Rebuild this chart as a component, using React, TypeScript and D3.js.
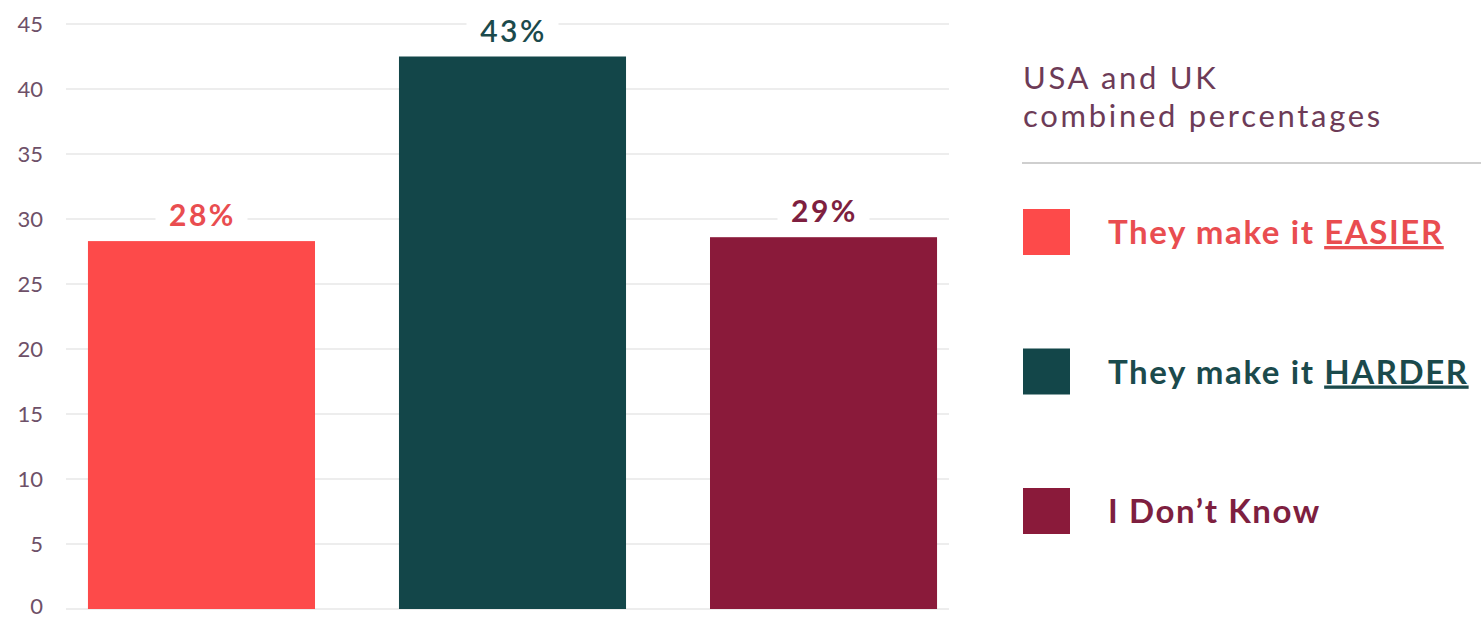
import React from "react";
import * as d3 from "d3";

const categories = ["They make it EASIER", "They make it HARDER", "I Don't Know"];
const values = [28.3, 42.5, 28.6];
const valueLabels = ["28%", "43%", "29%"];
const yTicks = [0, 5, 10, 15, 20, 25, 30, 35, 40, 45];
const barColors = ["#fd4a4a", "#134649", "#8a1a3a"];
const labelColors = ["#e94d50", "#1b4a4c", "#7e1f40"];
const legendPrefix = ["They make it ", "They make it ", "I Don\u2019t Know"];
const legendEmph = ["EASIER", "HARDER", ""];
const legendTitle = ["USA and UK", "combined percentages"];

const W = 1481;
const H = 618;

export default function App() {
  const y = d3.scaleLinear().domain([0, 45]).range([609, 24]);
  const x = d3
    .scaleBand<string>()
    .domain(categories)
    .range([66, 959])
    .paddingInner(0.27)
    .paddingOuter(0.0706);
  const font = "Lato, 'Open Sans', sans-serif";
  const legendY = d3.scalePoint<string>().domain(categories).range([232, 511]);

  return (
    <svg
      width={W}
      height={H}
      style={{ position: "absolute", left: 0, top: 0, background: "#fff" }}
      fontFamily={font}
    >
      {/* gridlines */}
      {yTicks.map((t) => (
        <line
          key={"g" + t}
          x1={66}
          x2={949}
          y1={y(t)}
          y2={y(t)}
          stroke="#dcdcdc"
          strokeWidth={1.2}
        />
      ))}
      {/* y labels */}
      {yTicks.map((t) => (
        <text
          key={"t" + t}
          x={43}
          y={y(t) + (t === 0 ? 5 : 8)}
          textAnchor="end"
          fontSize={22}
          fill="#6e5068"
        >
          {t}
        </text>
      ))}
      {/* bars */}
      {categories.map((c, i) => (
        <rect
          key={"b" + c}
          x={x(c)}
          y={y(values[i])}
          width={x.bandwidth()}
          height={y(0) - y(values[i])}
          fill={barColors[i]}
        />
      ))}
      {/* value labels */}
      {categories.map((c, i) => {
        const cx = (x(c) as number) + x.bandwidth() / 2;
        const by = y(values[i]) - 15;
        return (
          <g key={"l" + c}>
            <rect x={cx - 46} y={by - 27} width={92} height={32} fill="#fff" />
            <text
              x={cx + 1}
              y={by}
              textAnchor="middle"
              fontSize={30}
              letterSpacing={2.5}
              fontWeight={i === 1 ? 600 : 700}
              fill={labelColors[i]}
            >
              {valueLabels[i]}
            </text>
          </g>
        );
      })}
      {/* legend title */}
      <text x={1023} y={89} fontSize={31} letterSpacing={2.7} fill="#6d3b57">
        {legendTitle[0]}
      </text>
      <text x={1023} y={127} fontSize={31} letterSpacing={2.7} fill="#6d3b57">
        {legendTitle[1]}
      </text>
      <line x1={1022} x2={1481} y1={163} y2={163} stroke="#cfcfcf" strokeWidth={2} />
      {/* legend items */}
      {categories.map((c, i) => {
        const cy = legendY(c) as number;
        return (
          <g key={"lg" + c}>
            <rect x={1023} y={cy - 23} width={47} height={46} fill={barColors[i]} />
            <text
              x={1108}
              y={cy + 12}
              fontSize={33}
              letterSpacing={1.6}
              fontWeight={700}
              fill={labelColors[i]}
            >
              {legendPrefix[i]}
              {legendEmph[i] && (
                <tspan textDecoration="underline">{legendEmph[i]}</tspan>
              )}
            </text>
          </g>
        );
      })}
    </svg>
  );
}
